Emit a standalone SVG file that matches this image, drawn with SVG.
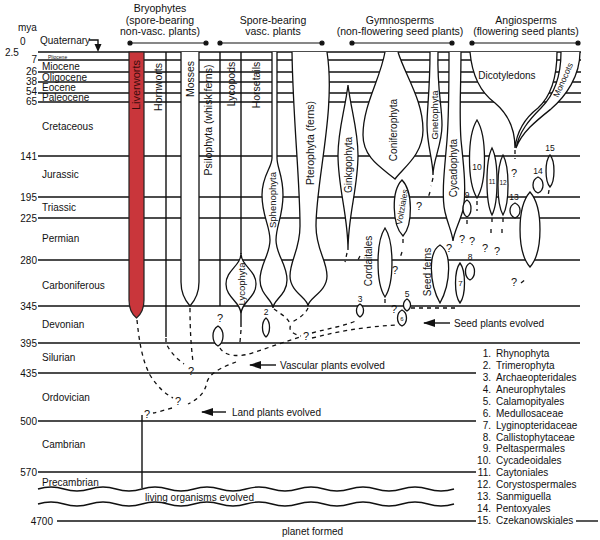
<svg xmlns="http://www.w3.org/2000/svg" width="600" height="540" viewBox="0 0 600 540">
<defs>
<style>
.t{font-family:"Liberation Sans",Arial,sans-serif;font-size:10px;fill:#111}
.h{font-size:10.5px;text-anchor:middle}
.r{text-anchor:end}
.m{text-anchor:middle}
.ln{stroke:#111;stroke-width:1.4;fill:none}
.sh{stroke:#111;stroke-width:1.3;fill:#fff}
.ds{stroke:#111;stroke-width:1.3;fill:none;stroke-dasharray:4 4}
.q{font-family:"Liberation Sans",Arial,sans-serif;font-size:11px;fill:#111;text-anchor:middle}
.n{font-family:"Liberation Sans",Arial,sans-serif;font-size:8.5px;fill:#111;text-anchor:middle}
</style>
<marker id="ah" viewBox="0 0 12 8" refX="1" refY="4" markerWidth="12" markerHeight="8" markerUnits="userSpaceOnUse" orient="auto"><path d="M12,0 L0,4 L12,8 Z" fill="#111"/></marker>
</defs>
<rect width="600" height="540" fill="#fff"/>

<g id="headers">
<text class="t h" x="160" y="12">Bryophytes</text>
<text class="t h" x="160" y="23.5">(spore-bearing</text>
<text class="t h" x="160" y="35">non-vasc. plants)</text>
<text class="t h" x="273" y="23.5">Spore-bearing</text>
<text class="t h" x="273" y="34.5">vasc. plants</text>
<text class="t h" x="400" y="23.5">Gymnosperms</text>
<text class="t h" x="400" y="34.5">(non-flowering seed plants)</text>
<text class="t h" x="526" y="23.5">Angiosperms</text>
<text class="t h" x="526" y="34.5">(flowering seed plants)</text>
<g stroke="#111" stroke-width="1.2" fill="#111">
<line x1="130" y1="43" x2="206" y2="43"/><circle cx="130" cy="43" r="2"/><circle cx="206" cy="43" r="2"/>
<line x1="220" y1="43" x2="322" y2="43"/><circle cx="220" cy="43" r="2"/><circle cx="322" cy="43" r="2"/>
<line x1="352" y1="43" x2="452" y2="43"/><circle cx="352" cy="43" r="2"/><circle cx="452" cy="43" r="2"/>
<line x1="472" y1="43" x2="578" y2="43"/><circle cx="472" cy="43" r="2"/><circle cx="578" cy="43" r="2"/>
</g>
</g>

<g id="timescale">
<line class="ln" x1="38" y1="52" x2="581" y2="52" stroke-width="2.2"/>
<g class="ln">
<line x1="38" y1="60" x2="581" y2="60"/>
<line x1="38" y1="72" x2="581" y2="72"/>
<line x1="38" y1="82" x2="581" y2="82"/>
<line x1="38" y1="93" x2="581" y2="93"/>
<line x1="38" y1="102" x2="581" y2="102"/>
<line x1="38" y1="156" x2="580" y2="156"/>
<line x1="38" y1="197" x2="580" y2="197"/>
<line x1="38" y1="218" x2="580" y2="218"/>
<line x1="38" y1="260" x2="580" y2="260"/>
<line x1="38" y1="306" x2="580" y2="306"/>
<line x1="38" y1="343" x2="580" y2="343"/>
<line x1="38" y1="373" x2="476" y2="373"/>
<line x1="38" y1="421" x2="476" y2="421"/>
<line x1="38" y1="472" x2="476" y2="472"/>
<line x1="57" y1="521" x2="476" y2="521"/>
<line x1="576" y1="521" x2="598" y2="521"/>
<path d="M38,489 Q51,485 64,489 T90,489 T116,489 T142,489 T168,489 T194,489 T220,489 T246,489 T272,489 T298,489 T324,489 T350,489 T376,489 T402,489 T428,489 T454,489"/>
<path d="M38,504 Q51,500 64,504 T90,504 T116,504 T142,504 T168,504 T194,504 T220,504 T246,504 T272,504 T298,504 T324,504 T350,504 T376,504 T402,504 T428,504 T454,504"/>
</g>
<text class="t" x="18" y="31">mya</text>
<text class="t" x="20" y="45">0</text>
<text class="t" x="5" y="56">2.5</text>
<text class="t r" x="37" y="63">7</text>
<text class="t r" x="37" y="75">26</text>
<text class="t r" x="37" y="85">38</text>
<text class="t r" x="37" y="95">54</text>
<text class="t r" x="37" y="105">65</text>
<text class="t r" x="37" y="160">141</text>
<text class="t r" x="37" y="201">195</text>
<text class="t r" x="37" y="222">225</text>
<text class="t r" x="37" y="264">280</text>
<text class="t r" x="37" y="310">345</text>
<text class="t r" x="37" y="347">395</text>
<text class="t r" x="37" y="377">435</text>
<text class="t r" x="37" y="425">500</text>
<text class="t r" x="37" y="476">570</text>
<text class="t r" x="53" y="525">4700</text>
<text class="t" x="40" y="44">Quaternary</text>
<path d="M89,40 H98 V45" class="ln" stroke-width="1.2"/>
<path d="M94.5,44 L101.5,44 L98,52 Z" fill="#111"/>
<text class="t" x="48" y="59" style="font-size:5px">Pliocene</text>
<text class="t" x="42" y="70">Miocene</text>
<text class="t" x="42" y="80.5">Oligocene</text>
<text class="t" x="42" y="91">Eocene</text>
<text class="t" x="42" y="101">Paleocene</text>
<text class="t" x="42" y="130">Cretaceous</text>
<text class="t" x="42" y="178">Jurassic</text>
<text class="t" x="42" y="211">Triassic</text>
<text class="t" x="42" y="242">Permian</text>
<text class="t" x="42" y="289">Carboniferous</text>
<text class="t" x="42" y="328">Devonian</text>
<text class="t" x="42" y="361">Silurian</text>
<text class="t" x="42" y="401">Ordovician</text>
<text class="t" x="42" y="448">Cambrian</text>
<text class="t" x="42" y="486">Precambrian</text>
<text class="t" x="145" y="501">living organisms evolved</text>
<text class="t" x="282" y="535">planet formed</text>
</g>

<g id="liverworts">
<path d="M129,52 V300 Q129,312 136.5,318 Q144,312 144,300 V52 Z" fill="#c9363b" stroke="#222" stroke-width="1.2"/>
<text class="t m" transform="translate(136.5,85) rotate(-90)" dy="3.8" style="font-size:11px;fill:#3b0c0c">Liverworts</text>
</g>
<g id="hornworts">
<line class="ln" x1="166" y1="52" x2="166" y2="337"/>
<text class="t m" transform="translate(158,87) rotate(-90)" dy="3.6" style="font-size:10.5px">Hornworts</text>
</g>
<g id="mosses">
<path class="sh" d="M181,52 V282 Q181,296 190,306 Q199,296 199,282 V52"/>
<text class="t m" transform="translate(190,79) rotate(-90)" dy="3.6" style="font-size:10.5px">Mosses</text>
</g>
<g id="psilophyta">
<line class="ln" x1="220" y1="52" x2="220" y2="306"/>
<text class="t m" transform="translate(208,120) rotate(-90)" dy="3.6" style="font-size:10.5px">Psilophyta (whisk ferns)</text>
</g>
<g id="lycopods">
<line class="ln" x1="241" y1="52" x2="241" y2="254"/>
<path class="sh" d="M241,253 C241,266 226,270 226,284 C226,298 241,302 241,314 C241,302 256,298 256,284 C256,270 241,266 241,253 Z"/>
<line class="ln" x1="241" y1="314" x2="241" y2="327"/>
<text class="t m" transform="translate(231,84) rotate(-90)" dy="3.6" style="font-size:10.5px">Lycopods</text>
<text class="t m" transform="translate(241.5,284) rotate(-90)" dy="3.3" style="font-size:9.5px">Lycophyta</text>
</g>
<g id="horsetails">
<path class="sh" d="M272,52 V158 C272,168 262,175 262,195 C262,216 270,226 270,240 C270,255 260,264 260,280 C260,295 273,300 273,308 C273,300 287,295 287,280 C287,264 276,255 276,240 C276,226 283,216 283,195 C283,175 277,168 277,158 V52"/>
<text class="t m" transform="translate(256,85) rotate(-90)" dy="3.6" style="font-size:10.5px">Horsetails</text>
<text class="t m" transform="translate(273,200) rotate(-90)" dy="3.2" style="font-size:9.5px">Sphenophyta</text>
</g>
<g id="pterophyta">
<path class="sh" d="M292,52 C293,120 300,180 300,226 C300,250 290,260 290,276 C290,292 308,298 308,306 C308,298 327,292 327,276 C327,260 316,250 316,226 C316,180 336,110 327,52"/>
<text class="t m" transform="translate(310,143) rotate(-90)" dy="3.6" style="font-size:10.5px">Pterophyta (ferns)</text>
</g>
<g id="ginkgophyta">
<path class="sh" d="M348,85 C345,110 338,130 338,155 C338,188 348,215 348,250 C348,215 358,188 358,155 C358,130 351,110 348,85 Z"/>
<text class="t m" transform="translate(348,165) rotate(-90)" dy="3.5">Ginkgophyta</text>
</g>
<g id="coniferophyta">
<path class="sh" d="M385,52 C380,80 363,105 363,135 C363,158 382,168 395,179 C403,168 423,155 423,130 C423,100 405,75 398,52"/>
<text class="t m" transform="translate(393,130) rotate(-90)" dy="3.5">Coniferophyta</text>
</g>
<g id="voltziales">
<path class="sh" d="M402,180 C391,191 392,225 403,236 C413,225 413,191 402,180 Z"/>
<text class="t m" transform="translate(402,207) rotate(-80)" dy="3" style="font-size:8.5px">Voltziales</text>
</g>
<g id="gnetophyta">
<path class="sh" d="M430,52 C430,90 427,108 427,125 C427,145 433,160 433,175 C433,160 442,145 442,125 C442,105 437,90 438,52"/>
<text class="t m" transform="translate(435,115) rotate(-90)" dy="3.3" style="font-size:9.5px">Gnetophyta</text>
</g>
<g id="cycadophyta">
<path class="sh" d="M449,52 C449,95 449,115 447,140 C445,165 441,195 445,212 C448,225 452,232 453,241 C454,232 459,224 463,210 C467,190 463,160 461,140 C459,112 461,90 461,52"/>
<text class="t m" transform="translate(453,168) rotate(-90)" dy="3.5">Cycadophyta</text>
</g>
<g id="dicotyledons">
<path class="sh" d="M470,52 C472,75 480,92 495,103 C508,114 515,130 515,148 C517,130 525,118 538,108 C550,97 557,80 557,52"/>
<text class="t m" x="507" y="79">Dicotyledons</text>
</g>
<g id="monocots">
<path class="sh" d="M561,52 C561,80 553,96 541,108 C529,120 519,132 516,148 C522,132 536,121 551,109 C566,96 580,76 580,52"/>
<text class="t m" transform="translate(563,80) rotate(-66)" dy="3" style="font-size:8.5px">Monocots</text>
</g>
<g id="cordaitales">
<path class="sh" d="M385,228 C375.7,242 375.7,283 385,297 C394.3,283 394.3,242 385,228 Z"/>
<text class="t m" transform="translate(368,261) rotate(-90)" dy="3.5">Cordaitales</text>
</g>
<g id="seedferns">
<path class="sh" d="M440,245 C428,252 429,283 440,303 C451,283 452,252 440,245 Z"/>
<text class="t m" transform="translate(427,272) rotate(-90)" dy="3.5">Seed ferns</text>
</g>
<g id="lens1"><path class="sh" d="M218,326 C211.3,330 211.3,342 218,346 C224.7,342 224.7,330 218,326 Z"/></g>
<g id="lens2"><path class="sh" d="M266,318 C261.3,322 261.3,333 266,337 C270.7,333 270.7,322 266,318 Z"/><text class="n" x="266" y="315">2</text></g>
<g id="lens3"><path class="sh" d="M360,304 C355.3,307 355.3,314 360,317 C364.7,314 364.7,307 360,304 Z"/><text class="n" x="360" y="302">3</text></g>
<g id="lens5"><path class="sh" d="M407,299 C402.3,302 402.3,308 407,311 C411.7,308 411.7,302 407,299 Z"/><text class="n" x="407" y="297">5</text></g>
<g id="lens6"><path class="sh" d="M402,310 C396,313 396,323 402,326 C408,323 408,313 402,310 Z"/><text class="n" x="402" y="321" style="font-size:6px">6</text></g>
<g id="lens7"><path class="sh" d="M460,263 C454,271 454,295 460,303 C466,295 466,271 460,263 Z"/><text class="n" x="460.5" y="286" style="font-size:8px">7</text></g>
<g id="lens8"><path class="sh" d="M470,263 C464,266 464,277 470,280 C476,277 476,266 470,263 Z"/><text class="n" x="470" y="260">8</text></g>
<g id="lens9"><path class="sh" d="M467,200 C461.7,203 461.7,214 467,217 C472.3,214 472.3,203 467,200 Z"/><text class="n" x="467" y="198">9</text></g>
<g id="lens10"><path class="sh" d="M477,120 C467,136 467,182 477,198 C487,182 487,136 477,120 Z"/><text class="n" x="477" y="170">10</text></g>
<g id="lens11"><path class="sh" d="M492,148 C485.3,161 485.3,202 492,215 C498.7,202 498.7,161 492,148 Z"/><text class="n" x="492" y="184" style="font-size:6.5px">11</text></g>
<g id="lens12"><path class="sh" d="M503,155 C496.3,167 496.3,203 503,215 C509.7,203 509.7,167 503,155 Z"/><text class="n" x="503" y="185" style="font-size:6.5px">12</text></g>
<g id="lens13"><path class="sh" d="M515,203 C508.3,206 508.3,215 515,218 C521.7,215 521.7,206 515,203 Z"/><text class="n" x="514" y="200">13</text></g>
<g id="lens14"><path class="sh" d="M538,177 C531.3,180 531.3,190 538,193 C544.7,190 544.7,180 538,177 Z"/><text class="n" x="538" y="174">14</text></g>
<g id="lens15"><path class="sh" d="M550,155 C544.7,161 544.7,181 550,187 C555.3,181 555.3,161 550,155 Z"/><text class="n" x="550" y="151">15</text></g>
<g id="lensbig"><path class="sh" d="M530,192 C516.7,207 516.7,252 530,267 C543.3,252 543.3,207 530,192 Z"/></g>

<g id="connectors">
<g class="ds">
<path d="M137,320 C139,340 142,360 150,375 C158,388 166,394 173,398"/>
<path d="M166,338 L166,343 C170,352 176,358 184,364"/>
<path d="M190,308 C190,330 191,345 193,362"/>
<path d="M236,362 C225,366 210,372 207,382 C205,392 200,398 188,404"/>
<path d="M172,408 C165,410 158,412 153,413"/>
<path d="M220,348 C224,356 240,358 255,352 C270,347 285,342 300,337"/>
<path d="M241,330 L240,342"/>
<path d="M274,309 C282,315 292,320 290,328 C290,332 296,335 301,336"/>
<path d="M308,308 C306,313 300,318 292,322"/>
<path d="M312,333 C330,328 345,326 358,320"/>
<path d="M312,338 C340,331 362,327 397,325"/>
<path d="M411,308 L458,308"/>
<path d="M385,299 V306"/>
<path d="M347,253 L345,262"/>
<path d="M403,239 V246 M402,252 L400,258"/>
<path d="M433,178 L431,186 M430,192 L428,198"/>
<path d="M477,201 V211"/>
<path d="M492,218 V224 M491,229 V235"/>
<path d="M503,218 V224 M502,229 V235"/>
<path d="M467,220 V228"/>
<path d="M549,190 L548,197"/>
<path d="M515,150 V159"/>
<path d="M521,283 L526,279"/>
<path d="M360,256 L357,262"/>
</g>
<line class="ln" x1="142" y1="415" x2="142" y2="488" stroke-width="1.2"/>
<line class="ln" x1="250" y1="365" x2="276" y2="365" marker-start="url(#ah)"/>
<line class="ln" x1="202" y1="412" x2="226" y2="412" marker-start="url(#ah)"/>
<line class="ln" x1="424" y1="323" x2="450" y2="323" marker-start="url(#ah)"/>
</g>

<g id="questions">
<text class="q" x="220" y="322">?</text>
<text class="q" x="306" y="340">?</text>
<text class="q" x="394" y="313">?</text>
<text class="q" x="395" y="274">?</text>
<text class="q" x="419" y="210">?</text>
<text class="q" x="449" y="252">?</text>
<text class="q" x="462" y="243">?</text>
<text class="q" x="472" y="245">?</text>
<text class="q" x="485" y="252">?</text>
<text class="q" x="497" y="255">?</text>
<text class="q" x="514" y="177">?</text>
<text class="q" x="514" y="286">?</text>
<text class="q" x="191" y="375">?</text>
<text class="q" x="178" y="405">?</text>
<text class="q" x="147" y="418">?</text>
</g>

<g id="events">
<text class="t" x="280" y="369">Vascular plants evolved</text>
<text class="t" x="232" y="416">Land plants evolved</text>
<text class="t" x="454" y="327">Seed plants evolved</text>
</g>

<g id="legend">
<g class="t r">
<text x="491" y="357">1.</text><text x="491" y="369">2.</text><text x="491" y="381">3.</text><text x="491" y="393">4.</text><text x="491" y="405">5.</text><text x="491" y="417">6.</text><text x="491" y="428.5">7.</text><text x="491" y="440.5">8.</text><text x="491" y="452">9.</text><text x="491" y="464">10.</text><text x="491" y="476">11.</text><text x="491" y="488">12.</text><text x="491" y="500">13.</text><text x="491" y="512">14.</text><text x="491" y="524">15.</text>
</g>
<g class="t">
<text x="496" y="357">Rhynophyta</text><text x="496" y="369">Trimerophyta</text><text x="496" y="381">Archaeopteridales</text><text x="496" y="393">Aneurophytales</text><text x="496" y="405">Calamopityales</text><text x="496" y="417">Medullosaceae</text><text x="496" y="428.5">Lyginopteridaceae</text><text x="496" y="440.5">Callistophytaceae</text><text x="496" y="452">Peltaspermales</text><text x="496" y="464">Cycadeoidales</text><text x="496" y="476">Caytoniales</text><text x="496" y="488">Corystospermales</text><text x="496" y="500">Sanmiguella</text><text x="496" y="512">Pentoxyales</text><text x="496" y="524">Czekanowskiales</text>
</g>
</g>
</svg>
